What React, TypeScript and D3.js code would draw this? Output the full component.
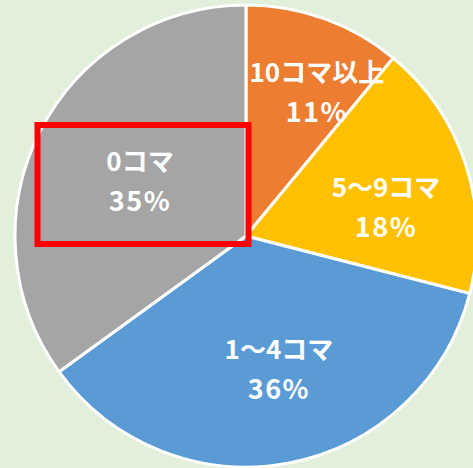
import React from "react";
import * as d3 from "d3";

const categories = ["10コマ以上", "5～9コマ", "1～4コマ", "0コマ"];
const values = [11, 18, 36, 35];
const percentLabels = ["11%", "18%", "36%", "35%"];
const colors = ["#ED7D31", "#FFC000", "#5B9BD5", "#A5A5A5"];
// label placement (fraction of radius, angle nudge in degrees)
const labelRadiusFrac = [0.69, 0.618, 0.597, 0.515];
const labelAngleNudge = [6.6, 6.7, -3, 0];

const W = 473;
const H = 468;
const CX = 246;
const CY = 236;
const R = 231;

export default function App() {
  const pie = d3.pie<number>().sort(null).value((d) => d)(values);
  const arc = d3.arc<d3.PieArcDatum<number>>().innerRadius(0).outerRadius(R);
  const fontFamily = "'Noto Sans CJK JP', 'Noto Sans', sans-serif";

  const grayIdx = 3;
  const grayArc = pie[grayIdx];
  const gMid = (grayArc.startAngle + grayArc.endAngle) / 2 + (labelAngleNudge[grayIdx] * Math.PI) / 180;
  const gr = R * labelRadiusFrac[grayIdx];
  const gx = CX + gr * Math.sin(gMid);
  const gy = CY - gr * Math.cos(gMid);

  return (
    <>
      <style>{`body{margin:0}`}</style>
      <svg width={W} height={H} style={{ display: "block" }}>
        <rect x={0} y={0} width={W} height={H} fill="#E2EFDA" />
        <g transform={`translate(${CX},${CY})`}>
          {pie.map((p, i) => (
            <path key={i} d={arc(p) || ""} fill={colors[i]} stroke="#FFFFFF" strokeWidth={3} strokeLinejoin="round" />
          ))}
        </g>
        {pie.map((p, i) => {
          const mid = (p.startAngle + p.endAngle) / 2 + (labelAngleNudge[i] * Math.PI) / 180;
          const r = R * labelRadiusFrac[i];
          const x = CX + r * Math.sin(mid);
          const y = CY - r * Math.cos(mid);
          return (
            <text
              key={i}
              x={x}
              y={y}
              textAnchor="middle"
              fill="#FFFFFF"
              fontFamily={fontFamily}
              fontWeight="bold"
              fontSize={26}
            >
              <tspan x={x} dy={-11}>{categories[i]}</tspan>
              <tspan x={x} dy={40} fontSize={27} letterSpacing={1.5}>{percentLabels[i]}</tspan>
            </text>
          );
        })}
        <rect
          x={gx - 102.5}
          y={gy - 57}
          width={211}
          height={119}
          fill="none"
          stroke="#FF0000"
          strokeWidth={6}
        />
      </svg>
    </>
  );
}
